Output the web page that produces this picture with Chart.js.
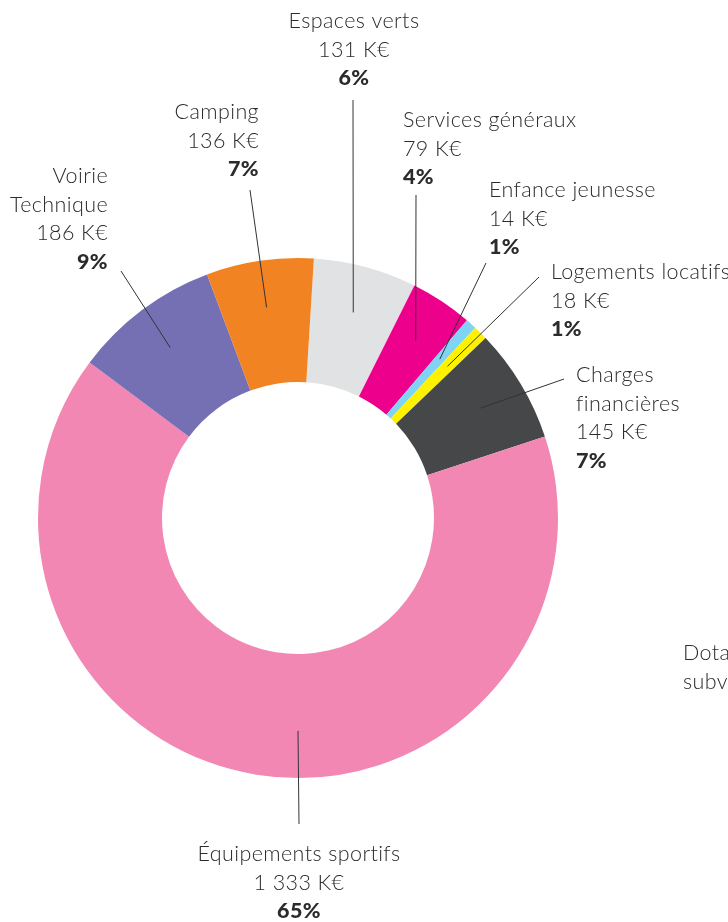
<!DOCTYPE html>
<html lang="fr">
<head>
  <meta charset="UTF-8">
  <title>Répartition des dépenses</title>
  <script src="https://cdn.jsdelivr.net/npm/chart.js"></script>
  <style>
    html, body { margin: 0; padding: 0; background: #fff; overflow: hidden; }
    #wrap { position: relative; width: 728px; height: 922px; }
  </style>
</head>
<body>
  <div id="wrap"><canvas id="donut" width="728" height="922"></canvas></div>

  <script>
    // clockwise from the top
    const categories = ['Espaces verts', 'Services généraux', 'Enfance jeunesse', 'Logements locatifs',
      'Charges financières', 'Équipements sportifs', 'Voirie Technique', 'Camping'];
    const nameLines = [['Espaces verts'], ['Services généraux'], ['Enfance jeunesse'], ['Logements locatifs'],
      ['Charges', 'financières'], ['Équipements sportifs'], ['Voirie', 'Technique'], ['Camping']];
    const amounts = [131, 79, 14, 18, 145, 1333, 186, 136];
    const amountLabels = ['131 K€', '79 K€', '14 K€', '18 K€', '145 K€', '1 333 K€', '186 K€', '136 K€'];
    const percentLabels = ['6%', '4%', '1%', '1%', '7%', '65%', '9%', '7%'];
    const colors = ['#e1e2e3', '#ec008c', '#7fd3f3', '#fff200', '#464749', '#f287b4', '#7570b3', '#f28323'];

    // label of the next chart, cut by the page edge
    const sideLabel = ['Dotations et', 'subventions'];

    // where each text block sits and where its leader line ends
    const labelLayout = [
      { x: 354, y: 28, align: 'center', lineEnd: [353, 100] },
      { x: 403, y: 127, align: 'left', lineEnd: [416, 195] },
      { x: 489, y: 197, align: 'left', lineEnd: [486, 263] },
      { x: 551, y: 279, align: 'left', lineEnd: [539, 277] },
      { x: 576, y: 382, align: 'left', lineEnd: [564, 379] },
      { x: 299, y: 861, align: 'center', lineEnd: [299, 824], angle: 180 },
      { x: 108, y: 183, align: 'right', lineEnd: [121, 271] },
      { x: 259, y: 119, align: 'right', lineEnd: [250, 190] }
    ];

    const FONT = 'Lato, "Open Sans", sans-serif';
    const LINE_H = 28.7;
    const TEXT_COLOR = '#2b2b2b';

    const calloutPlugin = {
      id: 'callouts',
      afterDraw(chart) {
        const ctx = chart.ctx;
        const arcs = chart.getDatasetMeta(0).data;
        ctx.save();

        arcs.forEach((arc, i) => {
          const lay = labelLayout[i];
          const a = lay.angle !== undefined
            ? (lay.angle - 90) * Math.PI / 180
            : (arc.startAngle + arc.endAngle) / 2;
          const r = arc.innerRadius + (arc.outerRadius - arc.innerRadius) * 0.62;
          ctx.beginPath();
          ctx.moveTo(arc.x + Math.cos(a) * r, arc.y + Math.sin(a) * r);
          ctx.lineTo(lay.lineEnd[0], lay.lineEnd[1]);
          ctx.strokeStyle = '#333';
          ctx.lineWidth = 1;
          ctx.stroke();

          const lines = [...nameLines[i], amountLabels[i]];
          ctx.fillStyle = TEXT_COLOR;
          ctx.textAlign = lay.align;
          ctx.textBaseline = 'alphabetic';
          ctx.letterSpacing = '0.4px';
          ctx.font = '300 21.5px ' + FONT;
          lines.forEach((t, k) => ctx.fillText(t, lay.x, lay.y + k * LINE_H));
          ctx.font = '900 21.5px ' + FONT;
          ctx.fillText(percentLabels[i], lay.x, lay.y + lines.length * LINE_H);
        });

        ctx.font = '300 21.5px ' + FONT;
        ctx.textAlign = 'left';
        sideLabel.forEach((t, k) => ctx.fillText(t, 683, 660 + k * LINE_H));
        ctx.restore();
      }
    };

    new Chart(document.getElementById('donut').getContext('2d'), {
      type: 'doughnut',
      data: {
        labels: categories,
        datasets: [{
          data: amounts,
          backgroundColor: colors,
          borderWidth: 0,
          hoverOffset: 0,
          offset: 0
        }]
      },
      options: {
        responsive: false,
        animation: false,
        events: [],
        cutout: '52.3%',
        rotation: 3.5,
        layout: { padding: { left: 38, right: 170, top: 258, bottom: 144 } },
        plugins: { legend: { display: false }, tooltip: { enabled: false } }
      },
      plugins: [calloutPlugin]
    });
  </script>
</body>
</html>
